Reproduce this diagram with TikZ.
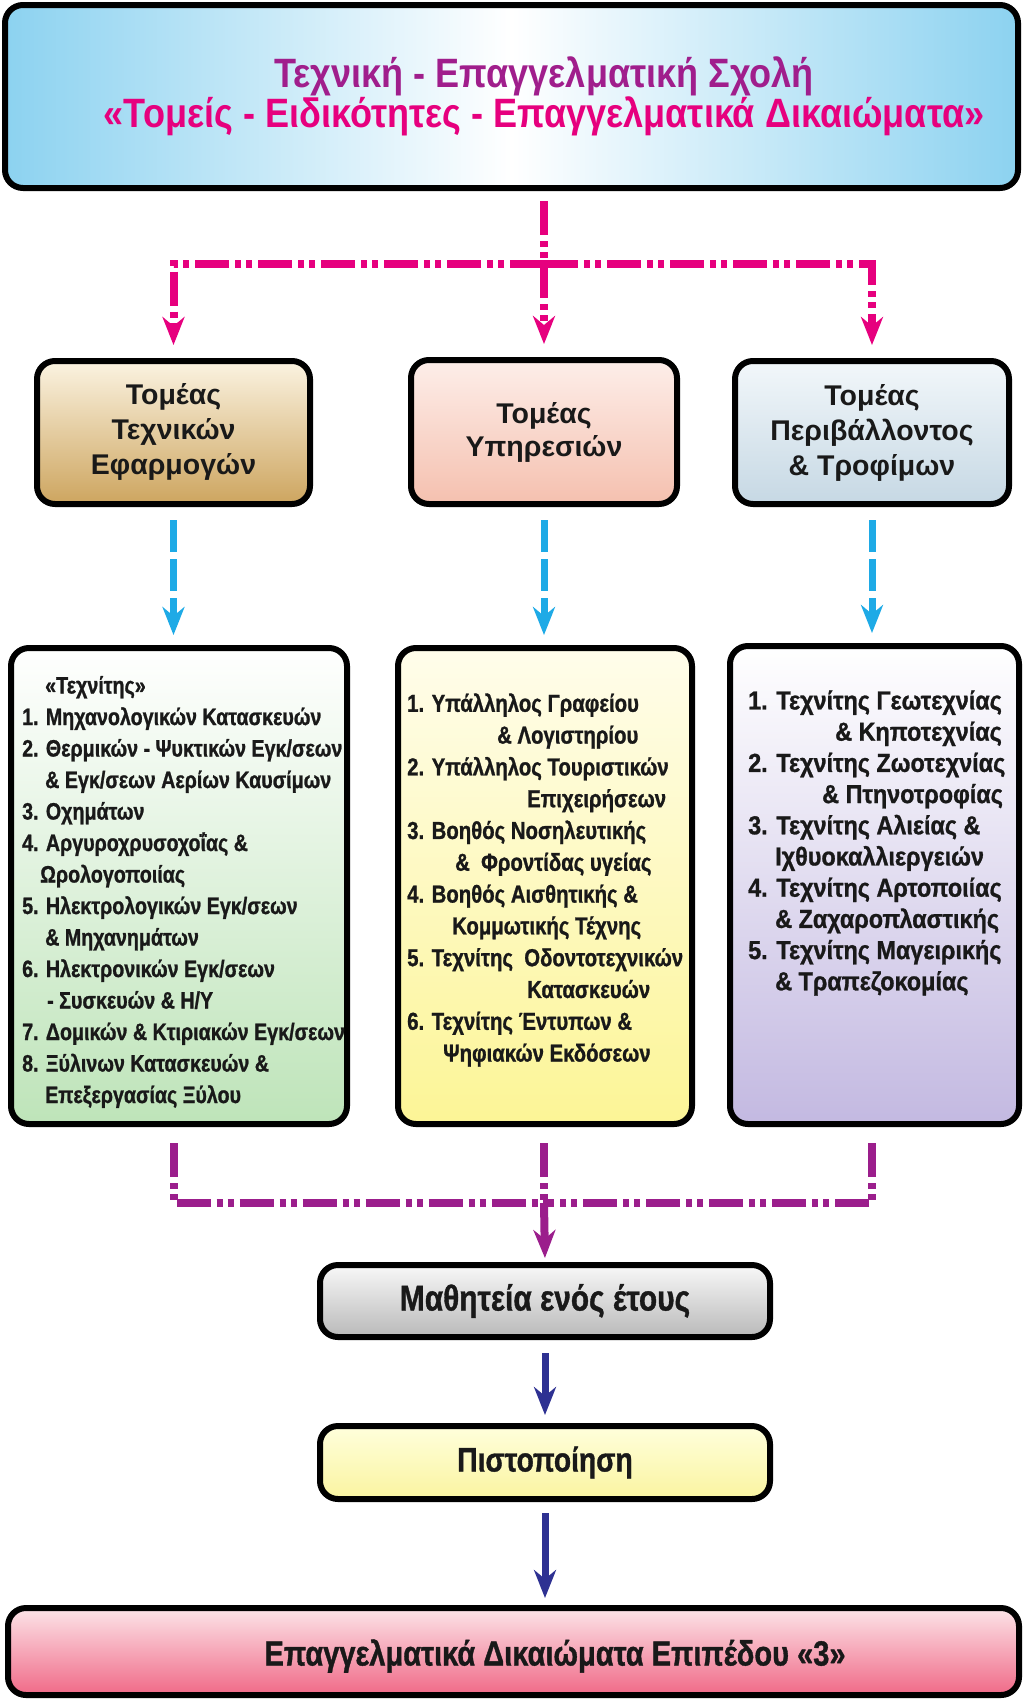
\documentclass[tikz,border=0pt]{standalone}
\usepackage{fontspec}
\setmainfont{Liberation Sans}
\newfontfamily\cf{Liberation Sans}[FakeStretch=0.83, FakeBold=1]
\newfontfamily\cfw{Liberation Sans}[FakeStretch=0.9, FakeBold=1]
\newfontfamily\tf{Liberation Sans}[FakeStretch=0.88]
\usetikzlibrary{arrows.meta,shadings}
\definecolor{pinkc}{RGB}{230,0,126}
\definecolor{titlea}{RGB}{160,30,140}
\definecolor{purpc}{RGB}{155,30,140}
\definecolor{bluec}{RGB}{30,170,230}
\definecolor{navyc}{RGB}{46,49,146}
\definecolor{skyc}{RGB}{140,210,240}
\tikzset{
  box/.style={draw=black, line width=6pt, rounded corners=18pt, inner sep=0pt, anchor=center},
  head/.style={font=\bfseries\fontsize{28.5pt}{35pt}\selectfont, align=center, text=black!90},
  lst/.style={font=\cf\bfseries\fontsize{23.7pt}{31.5pt}\selectfont, align=left, anchor=west, inner sep=0pt, text=black!90},
  big/.style={font=\cf\bfseries\fontsize{35pt}{40pt}\selectfont, text=black!90},
  tipa/.style={-{Stealth[length=28pt,width=22pt,inset=9pt]}},
  pk/.style={draw=pinkc, line width=8pt, dash pattern=on 34pt off 6pt on 6pt off 5pt on 6pt off 6pt},
  pp/.style={draw=purpc, line width=8pt, dash pattern=on 34pt off 6pt on 6pt off 5pt on 6pt off 6pt},
  bl/.style={draw=bluec, line width=7pt, dash pattern=on 32pt off 7pt},
  nv/.style={draw=navyc, line width=7pt},
}
\begin{document}
\begin{tikzpicture}[x=1pt,y=-1pt]
\useasboundingbox (0,0) rectangle (1024,1700);
% top box
\node[box, minimum width=1013pt, minimum height=183pt, left color=skyc, right color=skyc, middle color=white] (top) at (511.5,96.5) {};
\node[font=\tf\bfseries\fontsize{41pt}{39pt}\selectfont, align=center, inner sep=0pt] (title) at (544,96)
  {\textcolor{titlea}{Τεχνική - Επαγγελματική Σχολή}\\\textcolor{pinkc}{«Τομείς - Ειδικότητες - Επαγγελματικά Δικαιώματα»}};
% sector boxes
\node[box, head, minimum width=273pt, minimum height=143pt, top color={rgb,255:red,251;green,243;blue,225}, bottom color={rgb,255:red,205;green,165;blue,95}] (sl) at (173.5,432.5) {\raisebox{-3pt}{\begin{tabular}{@{}c@{}}Τομέας\\Τεχνικών\\Εφαρμογών\end{tabular}}};
\node[box, head, minimum width=266pt, minimum height=144pt, top color={rgb,255:red,253;green,238;blue,233}, bottom color={rgb,255:red,245;green,192;blue,175}] (sm) at (544,432) {Τομέας\\[-2pt]Υπηρεσιών};
\node[box, head, minimum width=274pt, minimum height=143pt, top color={rgb,255:red,242;green,247;blue,250}, bottom color={rgb,255:red,198;green,216;blue,228}] (sr) at (872,432.5) {Τομέας\\Περιβάλλοντος\\\& Τροφίμων};
% list boxes
\node[box, minimum width=336pt, minimum height=476pt, top color=white, bottom color={rgb,255:red,190;green,228;blue,185}] (ll) at (179,886) {};
\node[box, minimum width=294pt, minimum height=476pt, top color={rgb,255:red,255;green,253;blue,235}, bottom color={rgb,255:red,252;green,245;blue,150}] (lm) at (545,886) {};
\node[box, minimum width=289pt, minimum height=478pt, top color=white, bottom color={rgb,255:red,195;green,185;blue,225}] (lr) at (874.5,885) {};
\node[lst] (tl) at (22,892) {\hspace*{23pt}«Τεχνίτης»\\
1. Μηχανολογικών Κατασκευών\\
2. Θερμικών - Ψυκτικών Εγκ/σεων\\
\hspace*{23pt}\& Εγκ/σεων Αερίων Καυσίμων\\
3. Οχημάτων\\
4. Αργυροχρυσοχοΐας \&\\
\hspace*{18pt}Ωρολογοποιίας\\
5. Ηλεκτρολογικών Εγκ/σεων\\
\hspace*{23pt}\& Μηχανημάτων\\
6. Ηλεκτρονικών Εγκ/σεων\\
\hspace*{25pt}- Συσκευών \& Η/Υ\\
7. Δομικών \& Κτιριακών Εγκ/σεων\\
8. Ξύλινων Κατασκευών \&\\
\hspace*{23pt}Επεξεργασίας Ξύλου};
\node[lst, font=\cf\bfseries\fontsize{24.5pt}{31.8pt}\selectfont] (tm) at (407,880) {1. Υπάλληλος Γραφείου\\
\hspace*{90pt}\& Λογιστηρίου\\
2. Υπάλληλος Τουριστικών\\
\hspace*{120pt}Επιχειρήσεων\\
3. Βοηθός Νοσηλευτικής\\
\hspace*{48pt}\&\ \ Φροντίδας υγείας\\
4. Βοηθός Αισθητικής \&\\
\hspace*{45pt}Κομμωτικής Τέχνης\\
5. Τεχνίτης\ \ Οδοντοτεχνικών\\
\hspace*{120pt}Κατασκευών\\
6. Τεχνίτης Έντυπων \&\\
\hspace*{36pt}Ψηφιακών Εκδόσεων};
\node[lst, font=\cfw\bfseries\fontsize{26pt}{31.2pt}\selectfont] (tr) at (748,843) {1. Τεχνίτης Γεωτεχνίας\\
\hspace*{87pt}\& Κηποτεχνίας\\
2. Τεχνίτης Ζωοτεχνίας\\
\hspace*{74pt}\& Πτηνοτροφίας\\
3. Τεχνίτης Αλιείας \&\\
\hspace*{27pt}Ιχθυοκαλλιεργειών\\
4. Τεχνίτης Αρτοποιίας\\
\hspace*{27pt}\& Ζαχαροπλαστικής\\
5. Τεχνίτης Μαγειρικής\\
\hspace*{27pt}\& Τραπεζοκομίας};
% lower boxes
\node[box, big, font=\cf\bfseries\fontsize{36pt}{40pt}\selectfont, minimum width=450pt, minimum height=72pt, top color={rgb,255:red,248;green,248;blue,248}, bottom color={rgb,255:red,185;green,185;blue,185}] (mat) at (545,1301) {Μαθητεία ενός έτους};
\node[box, big, font=\cf\bfseries\fontsize{34pt}{40pt}\selectfont, minimum width=450pt, minimum height=73pt, top color={rgb,255:red,255;green,255;blue,220}, bottom color={rgb,255:red,250;green,244;blue,160}] (cert) at (545,1462.5) {Πιστοποίηση};
\node[box, minimum width=1011pt, minimum height=87pt, top color={rgb,255:red,252;green,228;blue,232}, bottom color={rgb,255:red,240;green,105;blue,135}] (bot) at (513.5,1651.5) {};
\node[big, inner sep=0pt] (bott) at (555,1656) {Επαγγελματικά Δικαιώματα Επιπέδου «3»};
% top connectors
\coordinate (jt) at (544,264);
\draw[pk, tipa, shorten <=10pt, shorten >=13pt] (top.south -| sm.north) -- (sm.north);
\draw[pk, tipa, shorten >=13pt] (jt) -| (sl.north);
\draw[pk, tipa, shorten >=13pt] (jt) -| (sr.north);
% blue connectors
\draw[bl, tipa, shorten <=13pt, shorten >=10pt] (sl.south) -- (sl.south |- ll.north);
\draw[bl, tipa, shorten <=13pt, shorten >=10pt] (sm.south) -- (sm.south |- lm.north);
\draw[bl, tipa, shorten <=13pt, shorten >=10pt] (sr.south) -- (sr.south |- lr.north);
% lower connectors
\coordinate (jb) at (544,1203);
\draw[pp, shorten <=16pt] (sl.south |- ll.south) |- (jb);
\draw[pp, shorten <=16pt] (sr.south |- lr.south) |- (jb);
\draw[pp, shorten <=16pt] (jb |- lm.south) -- (jb);
\draw[draw=purpc, line width=8pt, tipa, shorten >=4pt] (jb) -- (mat.north);
\draw[nv, tipa, shorten <=13pt, shorten >=8pt] (mat.south) -- (cert.north);
\draw[nv, tipa, shorten <=11pt, shorten >=7pt] (cert.south) -- (cert.south |- bot.north);
\end{tikzpicture}
\end{document}
